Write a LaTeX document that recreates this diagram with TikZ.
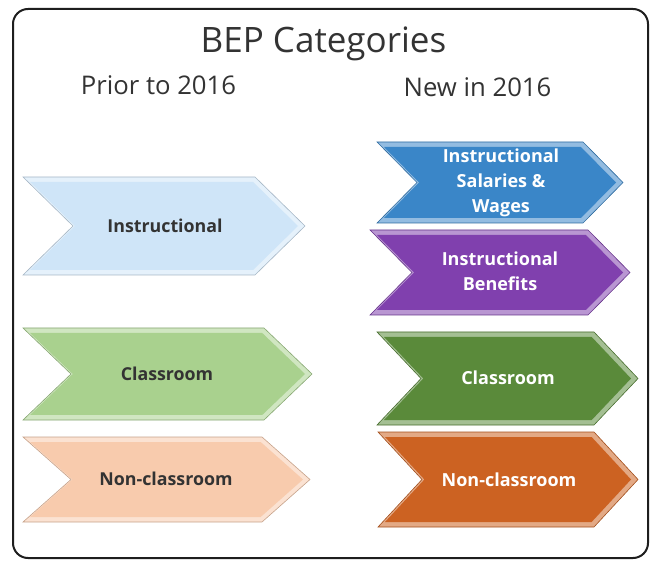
\documentclass[tikz,border=0pt]{standalone}
\usepackage{fontspec}
\setmainfont{Open Sans}
\definecolor{frameC}{HTML}{1E1E1E}
\definecolor{txtC}{HTML}{333333}
\definecolor{cLblue}{HTML}{CFE5F8}
\definecolor{cLgreen}{HTML}{A9D18E}
\definecolor{cLpeach}{HTML}{F8CBAD}
\definecolor{cBlue}{HTML}{3A86C8}
\definecolor{cPurple}{HTML}{8040AE}
\definecolor{cDgreen}{HTML}{5A8A3A}
\definecolor{cOrange}{HTML}{CC6222}
% #1 left, #2 top, #3 tip x, #4 bottom, #5 depth, #6 colour
\newcommand\drawchev[6]{%
  \pgfmathsetmacro\chm{(#2+#4)/2}%
  \pgfmathsetmacro\chh{(#4-#2)/2}%
  \pgfmathsetmacro\che{5}%
  \pgfmathsetmacro\chd{#5*(\chh-\che)/\chh}%
  \pgfmathsetmacro\chL{#1+1.4*\che}%
  \pgfmathsetmacro\chR{#3-1.4*\che}%
  \pgfmathsetmacro\chT{#2+\che}%
  \pgfmathsetmacro\chB{#4-\che}%
  \path[fill=#6!55!white,draw=#6!80!black,line width=0.6pt]
    (#1,#2) -- ({#3-#5},#2) -- (#3,\chm) -- ({#3-#5},#4) -- (#1,#4) -- ({#1+#5},\chm) -- cycle;
  \path[fill=#6]
    (\chL,\chT) -- ({\chR-\chd},\chT) -- (\chR,\chm) -- ({\chR-\chd},\chB) -- (\chL,\chB) -- ({\chL+\chd},\chm) -- cycle;
}
\tikzset{
  darklbl/.style={font=\fontsize{17.8}{24}\selectfont\bfseries, text=txtC, align=center, inner sep=0pt},
  whitelbl/.style={font=\fontsize{18}{25}\selectfont\bfseries, text=white, align=center, inner sep=0pt},
  heading/.style={font=\fontsize{25.7}{30}\selectfont, text=txtC, inner sep=0pt, anchor=base},
}
\begin{document}
\begin{tikzpicture}[x=1pt,y=-1pt]
\useasboundingbox (0,0) rectangle (651,561);
\draw[frameC,line width=2pt,rounded corners=15pt] (13,9) rectangle (648,558);
\node[heading,font=\fontsize{35}{38}\selectfont] (title) at (323.5,53) {BEP Categories};
\node[heading] (prior) at (158.5,95) {Prior to 2016};
\node[heading] (new) at (477.5,97) {New in 2016};
% left column
\drawchev{23}{177}{305}{275}{50}{cLblue}
\node[darklbl] (li) at (165,226) {Instructional};
\drawchev{23}{328}{312}{420}{48}{cLgreen}
\node[darklbl] (lc) at (167,374) {Classroom};
\drawchev{23}{437}{310}{522}{48}{cLpeach}
\node[darklbl] (ln) at (166,479) {Non-classroom};
% right column
\drawchev{377}{142}{623}{223}{40}{cBlue}
\node[whitelbl] (rs) at (501,183) {Instructional\\Salaries \&\\Wages};
\drawchev{370}{230}{630}{315}{42}{cPurple}
\node[whitelbl] (rb) at (500,271) {Instructional\\Benefits};
\drawchev{377}{332}{638}{425}{44}{cDgreen}
\node[whitelbl] (rc) at (508,378) {Classroom};
\drawchev{378}{432}{638}{527}{44}{cOrange}
\node[whitelbl] (rn) at (509,480) {Non-classroom};
\end{tikzpicture}
\end{document}
